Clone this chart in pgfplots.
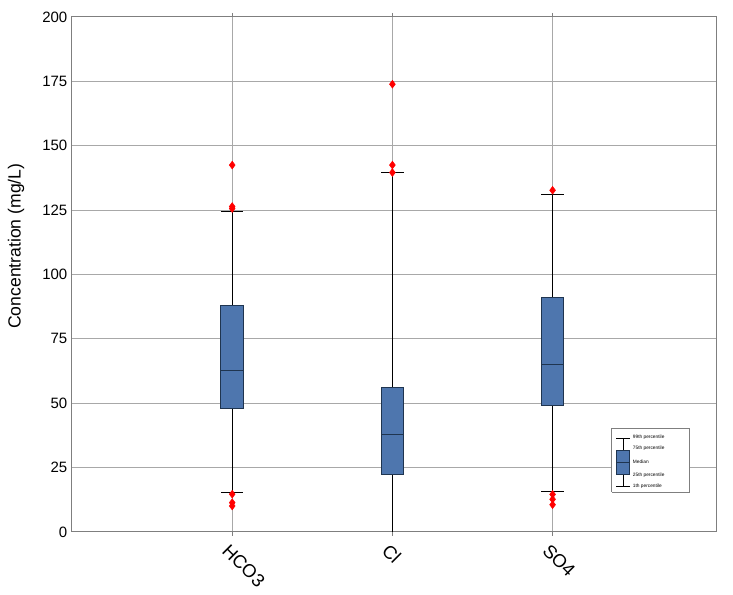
\documentclass[border=0pt]{standalone}
\usepackage{fontspec}
\setmainfont{Liberation Sans}
\usepackage{pgfplots}
\pgfplotsset{compat=1.18}
\definecolor{boxblue}{HTML}{4E76AE}
\definecolor{boxedge}{HTML}{1F3550}
\definecolor{gridgray}{HTML}{A8A8A8}
\definecolor{framegray}{HTML}{7F7F7F}

\begin{document}
\begin{tikzpicture}
\path[use as bounding box] (-54pt,-47.25pt) rectangle (495.75pt,399pt);
\begin{axis}[
  scale only axis, width=483pt, height=386.25pt,
  xmin=0, xmax=4.02, ymin=0, ymax=200,
  xtick={1,2,3}, xticklabels={HCO3,Cl,SO4},
  ytick={0,25,...,200},
  grid=major,
  major grid style={gridgray, line width=0.75pt},
  axis line style={framegray, line width=0.75pt},
  tick style={framegray, line width=0.75pt},
  major tick length=3pt,
  xtick align=outside,
  ytick style={draw=none},
  unbounded coords=jump,
  /pgf/number format/assume math mode=true,
  yticklabel style={font=\fontsize{11.25}{13}\selectfont},
  xticklabel style={font=\fontsize{13.8}{15}\selectfont, xshift=-1.5pt, yshift=-5pt, rotate=-45, anchor=north west, inner sep=0pt},
  ylabel={Concentration (mg/L)},
  ylabel style={font=\fontsize{13.2}{15}\selectfont, at={(axis description cs:-0.087,0.555)}, anchor=center},
  whisk/.style={black, line width=0.75pt, mark=none},
  box/.style={draw=boxedge, fill=boxblue, line width=0.75pt, mark=none},
  med/.style={boxedge, line width=0.75pt, mark=none},
  outl/.style={only marks, mark=diamond*, mark size=2.9pt, mark options={draw=red, fill=red}},
]

% HCO3: whiskers 15.2 / 124.5, quartiles 47.8 / 87.8, median 62.9
\addplot[whisk] coordinates {(1,15.2) (1,47.8) (nan,nan) (1,87.8) (1,124.5) (nan,nan)
  (0.93,15.2) (1.07,15.2) (nan,nan) (0.93,124.5) (1.07,124.5)};
\addplot[box] coordinates {(0.93,47.8) (1.07,47.8) (1.07,87.8) (0.93,87.8) (0.93,47.8)};
\addplot[med] coordinates {(0.93,62.9) (1.07,62.9)};
\addplot[outl] coordinates {(1,142.5) (1,126.4) (1,125.6) (1,14.7) (1,11.4) (1,10.1)};

% Cl: whiskers 0 / 139.7, quartiles 22.5 / 56.3, median 37.7
\addplot[whisk] coordinates {(2,0) (2,22.5) (nan,nan) (2,56.3) (2,139.7) (nan,nan)
  (1.93,139.7) (2.07,139.7)};
\addplot[box] coordinates {(1.93,22.5) (2.07,22.5) (2.07,56.3) (1.93,56.3) (1.93,22.5)};
\addplot[med] coordinates {(1.93,37.7) (2.07,37.7)};
\addplot[outl] coordinates {(2,173.9) (2,142.5) (2,139.6)};

% SO4: whiskers 15.9 / 131.1, quartiles 49.3 / 90.9, median 65.2
\addplot[whisk] coordinates {(3,15.9) (3,49.3) (nan,nan) (3,90.9) (3,131.1) (nan,nan)
  (2.93,15.9) (3.07,15.9) (nan,nan) (2.93,131.1) (3.07,131.1)};
\addplot[box] coordinates {(2.93,49.3) (3.07,49.3) (3.07,90.9) (2.93,90.9) (2.93,49.3)};
\addplot[med] coordinates {(2.93,65.2) (3.07,65.2)};
\addplot[outl] coordinates {(3,132.7) (3,14.6) (3,12.7) (3,10.6)};

% key
\addplot[draw=framegray, fill=white, line width=0.6pt, mark=none]
  coordinates {(3.37,15.5) (3.856,15.5) (3.856,40.4) (3.37,40.4) (3.37,15.5)};
\addplot[whisk, line width=0.5pt] coordinates {(3.44,17.9) (3.44,22.5) (nan,nan) (3.44,31.8) (3.44,36.5) (nan,nan)
  (3.398,17.9) (3.482,17.9) (nan,nan) (3.398,36.5) (3.482,36.5)};
\addplot[box, line width=0.5pt] coordinates {(3.398,22.5) (3.482,22.5) (3.482,31.8) (3.398,31.8) (3.398,22.5)};
\addplot[med, line width=0.5pt] coordinates {(3.398,26.9) (3.482,26.9)};
\begin{scope}[every node/.style={anchor=west, inner sep=0pt, font=\fontsize{3.6}{4}\selectfont}]
\node at (axis cs:3.5,36.8) {99th percentile};
\node at (axis cs:3.5,32.6) {75th percentile};
\node at (axis cs:3.5,27.1) {Median};
\node at (axis cs:3.5,22.2) {25th percentile};
\node at (axis cs:3.5,17.6) {1th percentile};
\end{scope}
\end{axis}
\end{tikzpicture}
\end{document}
